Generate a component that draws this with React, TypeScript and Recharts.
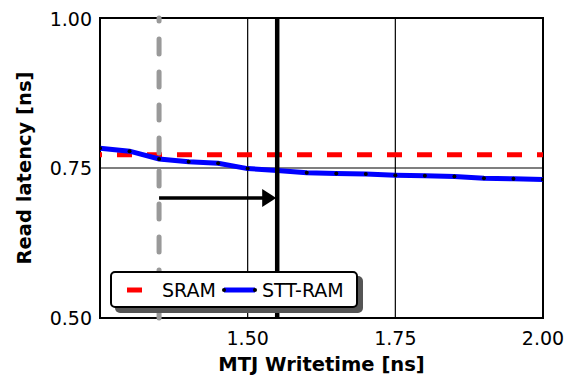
import React from 'react';
import { LineChart, Line, XAxis, YAxis, ReferenceLine, ReferenceArea, Legend, Label } from 'recharts';

const writeTimes = [1.25, 1.3, 1.35, 1.4, 1.45, 1.5, 1.55, 1.6, 1.65, 1.7, 1.75, 1.8, 1.85, 1.9, 1.95, 2.0];
const sttRamLatency = [0.783, 0.778, 0.765, 0.7605, 0.758, 0.749, 0.746, 0.742, 0.741, 0.74, 0.738, 0.737, 0.736, 0.733, 0.732, 0.731];
const sramLatency = 0.772;
const xTicks = [1.5, 1.75, 2.0];
const yTicks = [0.5, 0.75, 1.0];
const xGrid = [1.5, 1.75];
const yGrid = [0.75];
const baselineWriteTime = 1.35;
const chosenWriteTime = 1.55;
const arrowLatency = 0.7;

const data = writeTimes.map((t, i) => ({ t, stt: sttRamLatency[i], sram: sramLatency }));

const FONT = '"DejaVu Sans", sans-serif';

const ArrowShape = (props: any) => {
  const { x1, y1, x2, y2 } = props;
  const head = 14;
  const half = 9;
  const tip = x2 - 1;
  return (
    <g>
      <line x1={x1} y1={y1} x2={tip - head + 2} y2={y2} stroke="#000" strokeWidth={3.5} />
      <polygon points={`${tip},${y2} ${tip - head},${y2 - half} ${tip - head},${y2 + half}`} fill="#000" />
    </g>
  );
};

const LegendBox = () => (
  <div
    style={{
      boxSizing: 'border-box',
      width: 248,
      height: 37,
      border: '2px solid #000',
      borderRadius: 5,
      background: '#fff',
      boxShadow: '5px 5px 0 #555',
      display: 'flex',
      alignItems: 'center',
      paddingLeft: 15,
      fontFamily: FONT,
      fontSize: 19,
      color: '#000',
      whiteSpace: 'nowrap',
    }}
  >
    <svg width={33} height={10} style={{ display: 'block' }}>
      <line x1={0} y1={5} x2={15} y2={5} stroke="#ff0000" strokeWidth={5} />
    </svg>
    <span style={{ marginLeft: 2 }}>SRAM</span>
    <svg width={35} height={10} style={{ display: 'block', marginLeft: 6 }}>
      <line x1={2} y1={5} x2={33} y2={5} stroke="#0000ff" strokeWidth={5} />
      <circle cx={2} cy={5} r={2} fill="#000" />
      <circle cx={33} cy={5} r={2} fill="#000" />
    </svg>
    <span style={{ marginLeft: 5 }}>STT-RAM</span>
  </div>
);

export default function App() {
  return (
    <LineChart width={566} height={370} data={data} margin={{ top: 10, right: 31, bottom: 0, left: 0 }}>
      <XAxis
        dataKey="t"
        type="number"
        domain={[1.25, 2.0]}
        ticks={xTicks}
        allowDataOverflow
        tickFormatter={(v: number) => v.toFixed(2)}
        tick={{ fontSize: 19, fill: '#000', fontFamily: FONT }}
        tickLine={false}
        axisLine={false}
        tickSize={0}
        tickMargin={14}
        height={60}
      >
        <Label
          content={(p: any) => {
            const vb = p.viewBox;
            return (
              <text x={vb.x + vb.width / 2} y={363} textAnchor="middle" fontFamily={FONT} fontWeight="bold" fontSize={19.5} fill="#000">
                MTJ Writetime [ns]
              </text>
            );
          }}
        />
      </XAxis>
      <YAxis
        type="number"
        domain={[0.5, 1.0]}
        ticks={yTicks}
        allowDataOverflow
        tickFormatter={(v: number) => v.toFixed(2)}
        tick={{ fontSize: 19, fill: '#000', fontFamily: FONT }}
        tickLine={false}
        axisLine={false}
        tickSize={0}
        tickMargin={8}
        width={92}
      >
        <Label
          content={(p: any) => {
            const vb = p.viewBox;
            const cx = 16;
            const cy = vb.y + vb.height / 2;
            return (
              <text
                x={cx}
                y={cy}
                transform={`rotate(-90 ${cx} ${cy})`}
                textAnchor="middle"
                dominantBaseline="central"
                fontFamily={FONT}
                fontWeight="bold"
                fontSize={19.5}
                fill="#000"
              >
                Read latency [ns]
              </text>
            );
          }}
        />
      </YAxis>
      {xGrid.map((g) => (
        <ReferenceLine key={'gx' + g} x={g} stroke="#000" strokeWidth={1.2} />
      ))}
      {yGrid.map((g) => (
        <ReferenceLine key={'gy' + g} y={g} stroke="#000" strokeWidth={1.2} />
      ))}
      <Line
        dataKey="sram"
        stroke="#ff0000"
        strokeWidth={5}
        strokeDasharray="15 15"
        strokeDashoffset={13}
        dot={false}
        isAnimationActive={false}
      />
      <Line
        dataKey="stt"
        stroke="#0000ff"
        strokeWidth={5}
        dot={{ r: 2, fill: '#000', stroke: 'none' }}
        isAnimationActive={false}
      />
      <ReferenceLine
        x={baselineWriteTime}
        stroke="#999"
        strokeWidth={5}
        strokeDasharray="15 18"
        strokeLinecap="round"
      />
      <ReferenceLine x={chosenWriteTime} stroke="#000" strokeWidth={4.5} />
      <ReferenceLine
        segment={[
          { x: baselineWriteTime, y: arrowLatency },
          { x: chosenWriteTime, y: arrowLatency },
        ]}
        shape={ArrowShape}
      />
      <ReferenceArea x1={1.25} x2={2.0} y1={0.5} y2={1.0} fill="none" stroke="#000" strokeWidth={2} />
      <Legend
        layout="horizontal"
        verticalAlign="middle"
        content={() => <LegendBox />}
        wrapperStyle={{ left: 102, top: 263, width: 'auto', height: 'auto' }}
      />
    </LineChart>
  );
}
